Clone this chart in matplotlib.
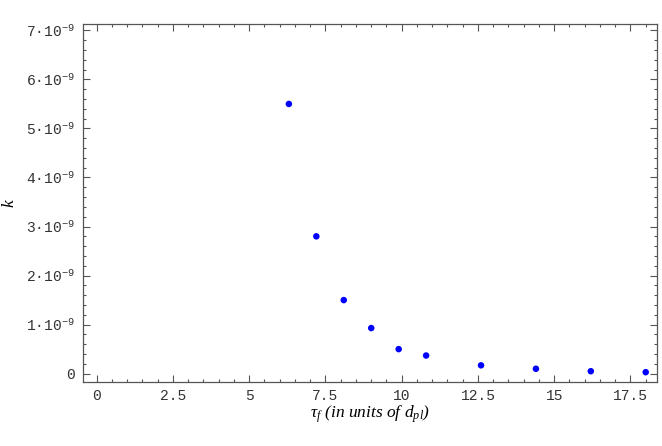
import matplotlib
matplotlib.use("Agg")
import matplotlib.pyplot as plt
from matplotlib.ticker import FixedLocator, MultipleLocator, FuncFormatter

# data
tau_f = [6.3, 7.2, 8.1, 9.0, 9.9, 10.8, 12.6, 14.4, 16.2, 18.0]
k_vals = [5.50e-9, 2.80e-9, 1.50e-9, 0.93e-9, 0.50e-9, 0.37e-9,
          0.17e-9, 0.10e-9, 0.05e-9, 0.03e-9]

x_ticks = [0, 2.5, 5, 7.5, 10, 12.5, 15, 17.5]
y_ticks = [0, 1e-9, 2e-9, 3e-9, 4e-9, 5e-9, 6e-9, 7e-9]

plt.rcParams["mathtext.fontset"] = "custom"
plt.rcParams["mathtext.rm"] = "Liberation Mono"
plt.rcParams["mathtext.it"] = "Liberation Serif:italic"

FRAME = "#555555"
TICK_FONT = {"family": "Liberation Mono", "size": 10.5, "color": "#333333"}


def y_label(v, pos):
    n = int(round(v / 1e-9))
    if n == 0:
        return "0"
    return f"{n}\u00b710$^{{-9}}$"


def x_label(v, pos):
    return f"{v:g}"


fig = plt.figure(figsize=(6.62, 4.46), dpi=100)
ax = fig.add_axes([83 / 662, 1 - 382 / 446, 574 / 662, 358 / 446])

ax.scatter(tau_f, k_vals, s=22, color=(0, 0, 1), edgecolors="none", zorder=3)

ax.set_xlim(-0.45, 18.37)
ax.set_ylim(-0.17e-9, 7.13e-9)

ax.xaxis.set_major_locator(FixedLocator(x_ticks))
ax.xaxis.set_minor_locator(MultipleLocator(0.5))
ax.yaxis.set_major_locator(FixedLocator(y_ticks))
ax.yaxis.set_minor_locator(MultipleLocator(0.2e-9))
ax.xaxis.set_major_formatter(FuncFormatter(x_label))
ax.yaxis.set_major_formatter(FuncFormatter(y_label))

ax.tick_params(which="both", direction="in", top=True, right=True,
               color=FRAME, width=0.8)
ax.tick_params(which="major", length=5)
ax.tick_params(axis="x", which="major", pad=5)
ax.tick_params(axis="y", which="major", pad=6)
ax.tick_params(which="minor", length=2.5)
for lab in ax.get_xticklabels() + ax.get_yticklabels():
    lab.set_fontfamily(TICK_FONT["family"])
    lab.set_fontsize(TICK_FONT["size"])
    lab.set_color(TICK_FONT["color"])

for sp in ax.spines.values():
    sp.set_color(FRAME)
    sp.set_linewidth(0.9)

ax.set_xlabel("\u03c4$_f$ (in units of d$_{pl}$)", family="Liberation Serif",
              style="italic", fontsize=12.5, labelpad=0)
ax.set_ylabel("k", family="Liberation Serif", style="italic", fontsize=12.5,
              rotation=90, va="center")
ax.yaxis.set_label_coords((9 - 83) / 574, (382 - 203) / 358)

fig.savefig("out.png", dpi=100)
